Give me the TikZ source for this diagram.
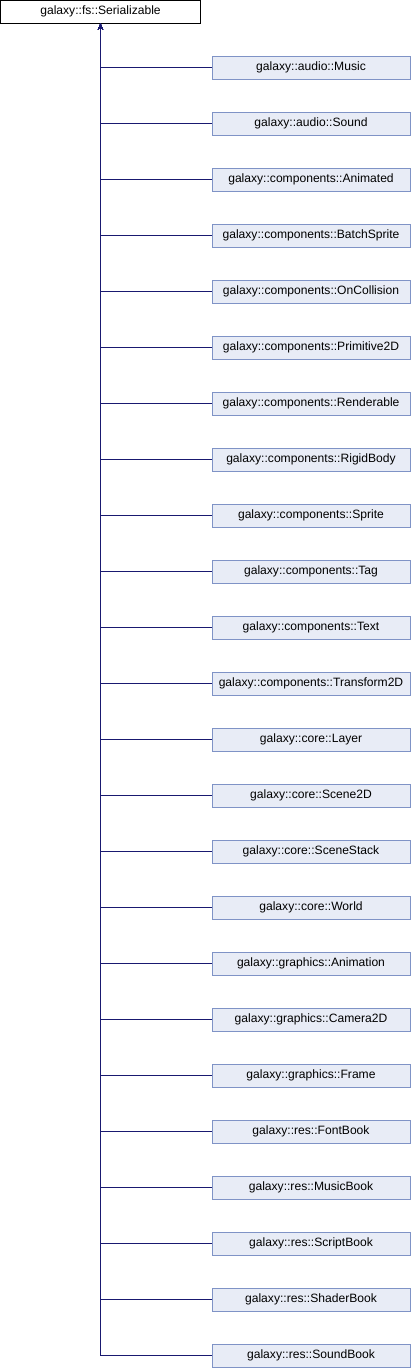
\documentclass[tikz,border=0pt]{standalone}
\usepackage{fontspec}
\setmainfont{Liberation Sans}
\usetikzlibrary{arrows.meta}
\definecolor{edgeblue}{HTML}{191970}
\definecolor{boxborder}{HTML}{7F93C6}
\definecolor{boxfill}{HTML}{E8ECF6}
\tikzset{
  cls/.style={draw=boxborder, fill=boxfill, line width=0.9pt, minimum width=198pt, minimum height=23pt, inner sep=0pt, font=\fontsize{12.1}{13}\selectfont, anchor=center},
  basecls/.style={draw=black, fill=white, line width=0.9pt, minimum width=200pt, minimum height=23pt, inner sep=0pt, font=\fontsize{12.1}{13}\selectfont},
  inh/.style={draw=edgeblue, line width=0.9pt, -{Stealth[length=6pt,width=5pt]}}
}
\begin{document}
\begin{tikzpicture}[x=1pt,y=-1pt]
\useasboundingbox (0,0) rectangle (412,1368);
\node[basecls] (base) at (100.5,11.5) {galaxy::fs::Serializable};
\foreach \name [count=\i from 0] in {
galaxy::audio::Music,
galaxy::audio::Sound,
galaxy::components::Animated,
galaxy::components::BatchSprite,
galaxy::components::OnCollision,
galaxy::components::Primitive2D,
galaxy::components::Renderable,
galaxy::components::RigidBody,
galaxy::components::Sprite,
galaxy::components::Tag,
galaxy::components::Text,
galaxy::components::Transform2D,
galaxy::core::Layer,
galaxy::core::Scene2D,
galaxy::core::SceneStack,
galaxy::core::World,
galaxy::graphics::Animation,
galaxy::graphics::Camera2D,
galaxy::graphics::Frame,
galaxy::res::FontBook,
galaxy::res::MusicBook,
galaxy::res::ScriptBook,
galaxy::res::ShaderBook,
galaxy::res::SoundBook}
{
  \node[cls] (c\i) at (311,{67.5+56*\i}) {\name};
  \draw[inh] (c\i.west) -| (base.south);
}
\end{tikzpicture}
\end{document}
